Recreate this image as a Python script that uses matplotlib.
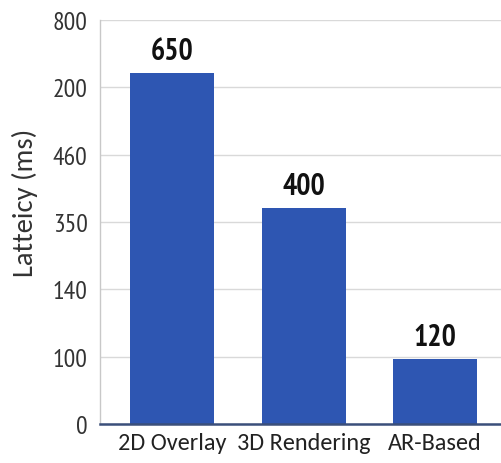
import matplotlib
matplotlib.use("Agg")
import matplotlib.pyplot as plt
import numpy as np

# Data
categories = ["2D Overlay", "3D Rendering", "AR-Based"]
latency = [650, 400, 120]
ytick_labels = ["0", "100", "140", "350", "460", "200", "800"]
ylabel = "Latteicy (ms)"

bar_color = "#2E56B2"
narrow = "PT Sans Narrow"
body = "Carlito"

fig = plt.figure(figsize=(5.01, 4.64), dpi=100)
ax = fig.add_axes([0.1996, 0.084, 0.80, 0.8707])

x = np.arange(len(categories))
bars = ax.bar(x, latency, width=0.64, color=bar_color, zorder=3)

y_top = 748
ax.set_ylim(0, y_top)
ax.set_xlim(-0.55, 2.5)
ax.set_yticks(np.linspace(0, y_top, len(ytick_labels)))
ax.set_yticklabels(ytick_labels, family=narrow, fontsize=18.5, color="#333333")
ax.set_xticks(x)
ax.set_xticklabels(categories, family=body, fontsize=17.5, color="#222222")
ax.tick_params(axis="y", length=0, pad=9)
ax.tick_params(axis="x", length=0, pad=6)

ax.grid(axis="y", color="#d9d9d9", linewidth=1.0, zorder=0)
for side in ("top", "right"):
    ax.spines[side].set_visible(False)
ax.spines["left"].set_color("#c8c8c8")
ax.spines["left"].set_linewidth(1.0)
ax.spines["bottom"].set_color("#3b4f7a")
ax.spines["bottom"].set_linewidth(1.8)
ax.spines["bottom"].set_zorder(4)

ax.set_ylabel(ylabel, family=body, fontsize=20.5, color="#333333")
ax.yaxis.set_label_coords(-0.155, 0.55)

for rect, val in zip(bars, latency):
    ax.annotate(f"{val}", (rect.get_x() + rect.get_width() / 2, val),
                xytext=(0, 10), textcoords="offset points",
                ha="center", va="baseline", family=narrow,
                fontsize=21.5, fontweight="bold", color="#111111")

fig.savefig("out.png", dpi=100)
